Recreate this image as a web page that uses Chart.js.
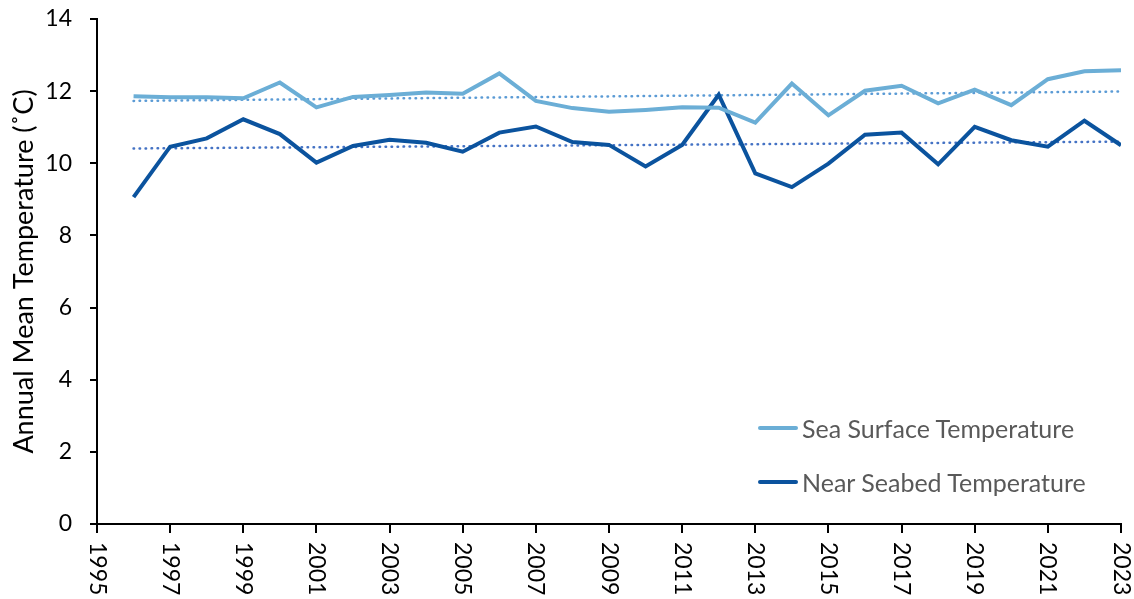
<!DOCTYPE html>
<html>
<head>
<title>Annual Mean Temperature</title>
<script src="https://cdn.jsdelivr.net/npm/chart.js"></script>
<style>
  body { margin: 0; background: #fff; }
  #wrap { position: relative; width: 1134px; height: 599px; }
  .legend { position: absolute; left: 758px; font-family: Lato, sans-serif; font-size: 25px; color: #595959; }
  .legend div { height: 54px; display: flex; align-items: center; white-space: nowrap; }
  .legend span.sw { display: inline-block; width: 40px; height: 4px; margin-right: 4px; border-radius: 2px; }
</style>
</head>
<body>
<div id="wrap">
  <canvas id="tempChart" width="1134" height="599"></canvas>
  <div class="legend" style="top: 401px;">
    <div><span class="sw" style="background:#6baed6"></span>Sea Surface Temperature</div>
    <div><span class="sw" style="background:#0b539e"></span>Near Seabed Temperature</div>
  </div>
</div>
<script>
// years and values
var years = [1996, 1997, 1998, 1999, 2000, 2001, 2002, 2003, 2004, 2005, 2006, 2007, 2008, 2009,
             2010, 2011, 2012, 2013, 2014, 2015, 2016, 2017, 2018, 2019, 2020, 2021, 2022, 2023];
var seaSurface = [11.86, 11.83, 11.83, 11.80, 12.24, 11.55, 11.84, 11.89, 11.96, 11.93, 12.49, 11.73, 11.53, 11.43,
                  11.48, 11.55, 11.54, 11.13, 12.21, 11.33, 12.01, 12.15, 11.66, 12.04, 11.61, 12.33, 12.55, 12.58];
var nearSeabed = [9.06, 10.46, 10.69, 11.22, 10.81, 10.02, 10.48, 10.65, 10.57, 10.32, 10.85, 11.02, 10.59, 10.51,
                  9.91, 10.51, 11.90, 9.72, 9.34, 9.99, 10.79, 10.85, 9.97, 11.01, 10.64, 10.46, 11.18, 10.50];
// dotted linear trend lines: start and end values
var trendYears = [1996, 2023];
var seaSurfaceTrend = [11.73, 11.99];
var nearSeabedTrend = [10.41, 10.60];

function pts(xs, ys) {
  return xs.map(function (x, i) { return { x: x, y: ys[i] }; });
}

var tickFont = { family: "Lato", size: 23 };

// x labels read top-to-bottom (rotated clockwise), which Chart.js doesn't do itself
var clockwiseLabels = {
  id: 'clockwiseLabels',
  afterDraw: function (chart) {
    var s = chart.scales.x, ctx = chart.ctx;
    ctx.save();
    ctx.font = '23px Lato';
    ctx.fillStyle = '#000';
    ctx.textAlign = 'left';
    ctx.textBaseline = 'middle';
    s.ticks.forEach(function (t) {
      ctx.save();
      ctx.translate(s.getPixelForValue(t.value), s.top + 18);
      ctx.rotate(Math.PI / 2);
      ctx.fillText(String(t.value), 0, 0);
      ctx.restore();
    });
    ctx.restore();
  }
};

new Chart(document.getElementById('tempChart').getContext('2d'), {
  type: 'line',
  data: {
    datasets: [
      { label: 'Sea Surface Temperature', data: pts(years, seaSurface), borderColor: '#6baed6', borderWidth: 4, pointRadius: 0, tension: 0 },
      { label: 'Near Seabed Temperature', data: pts(years, nearSeabed), borderColor: '#0b539e', borderWidth: 4, pointRadius: 0, tension: 0 },
      { label: 'SST trend', data: pts(trendYears, seaSurfaceTrend), borderColor: '#5b9bd5', borderWidth: 2.5, borderDash: [0.5, 5.5], borderCapStyle: 'round', pointRadius: 0 },
      { label: 'NBT trend', data: pts(trendYears, nearSeabedTrend), borderColor: '#4472c4', borderWidth: 2.5, borderDash: [0.5, 5.5], borderCapStyle: 'round', pointRadius: 0 }
    ]
  },
  options: {
    responsive: false,
    animation: false,
    layout: { padding: { top: 19, right: 13, left: 0, bottom: 0 } },
    plugins: { legend: { display: false }, tooltip: { enabled: false } },
    scales: {
      x: {
        type: 'linear', min: 1995, max: 2023,
        afterFit: function (s) { s.height = 75; },
        ticks: { stepSize: 2, display: false },
        grid: { drawOnChartArea: false, tickLength: 9, color: '#000', lineWidth: 2 },
        border: { color: '#000', width: 2 }
      },
      y: {
        min: 0, max: 14,
        afterFit: function (s) { s.width = 97; s.paddingTop = 0; s.paddingBottom = 0; },
        ticks: { stepSize: 2, color: '#000', font: tickFont, padding: 18 },
        grid: { drawOnChartArea: false, tickLength: 7, color: '#000', lineWidth: 2 },
        border: { color: '#000', width: 2 },
        title: { display: true, text: 'Annual Mean Temperature (˚C)', color: '#000',
                 font: { family: "Lato", size: 27 }, padding: { top: 8, bottom: 0 } }
      }
    }
  },
  plugins: [clockwiseLabels]
});
</script>
</body>
</html>
